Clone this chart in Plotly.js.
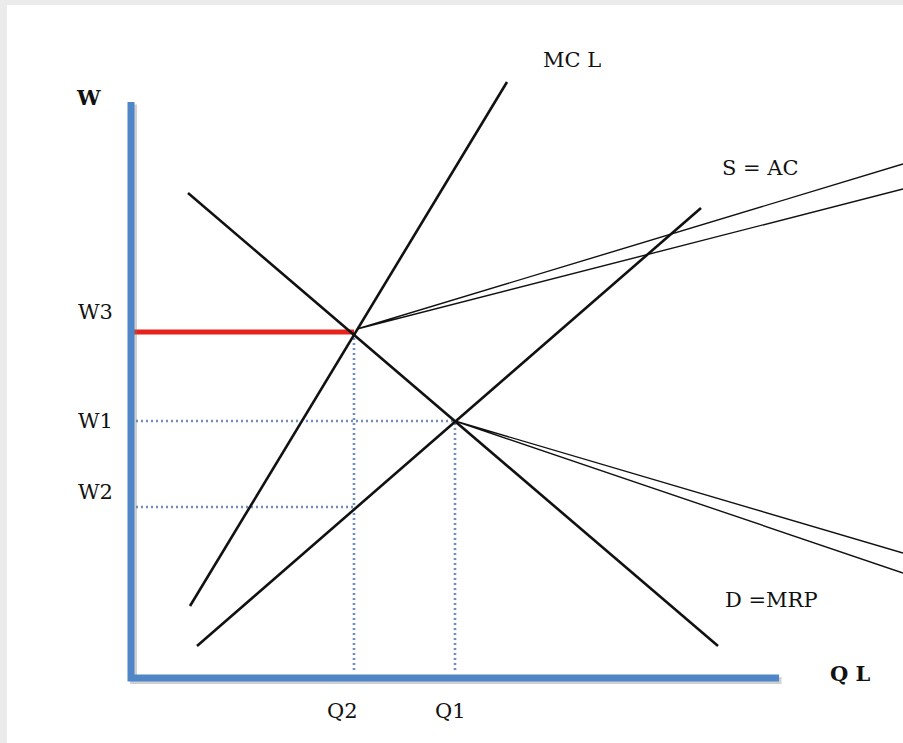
<!DOCTYPE html>
<html>
<head>
<meta charset="utf-8">
<script src="https://cdn.plot.ly/plotly-3.0.1.min.js"></script>
<style>
  html, body { margin: 0; padding: 0; background: #ebebeb; }
  #chart { width: 903px; height: 743px; }
</style>
</head>
<body>
<div id="chart"></div>
<script>
// ---- data (economic units: Q on x, W on y) ----
const curveNames = ['MC L', 'S = AC', 'D =MRP'];
const mcX = [5.9, 37.6];
const mcY = [7.2, 59.6];
const sX = [6.6, 57.0];
const sY = [3.2, 47.0];
const dX = [5.7, 58.7];
const dY = [48.5, 3.2];

const wLabels = ['W3', 'W1', 'W2'];
const wValues = [34.6, 25.7, 17.1];
const qLabels = ['Q2', 'Q1'];
const qValues = [22.3, 32.4];

const axisYTop = 57.6;
const axisXRight = 64.8;

// callout pointer lines (box lies off to the right)
const callUpX = [77.2, 22.6, 77.2];
const callUpY = [51.4, 34.9, 48.9];
const callLowX = [77.2, 32.4, 77.2];
const callLowY = [12.5, 25.7, 10.5];

// ---- traces ----
const FONT = 'DejaVu Serif, Liberation Serif, serif';
const black = '#111111';
const dotBlue = '#6f8dbd';
const dotStyle = {color: dotBlue, width: 2.6, dash: '2px,3px'};
const traces = [];

// dotted guide lines
traces.push({x: [0, qValues[1]], y: [wValues[1], wValues[1]], mode: 'lines', line: dotStyle});
traces.push({x: [0, qValues[0]], y: [wValues[2], wValues[2]], mode: 'lines', line: dotStyle});
traces.push({x: [qValues[0], qValues[0]], y: [0.8, wValues[0]], mode: 'lines', line: dotStyle});
traces.push({x: [qValues[1], qValues[1]], y: [0.8, wValues[1]], mode: 'lines', line: dotStyle});

// red W3 line
traces.push({x: [0, qValues[0]], y: [wValues[0], wValues[0]], mode: 'lines',
  line: {color: '#e5231b', width: 5}});

// curves
traces.push({name: curveNames[0], x: mcX, y: mcY, mode: 'lines', line: {color: black, width: 2.6}});
traces.push({name: curveNames[1], x: sX, y: sY, mode: 'lines', line: {color: black, width: 2.6}});
traces.push({name: curveNames[2], x: dX, y: dY, mode: 'lines', line: {color: black, width: 2.6}});

// callout lines
traces.push({x: callUpX, y: callUpY, mode: 'lines', line: {color: black, width: 1.4}});
traces.push({x: callLowX, y: callLowY, mode: 'lines', line: {color: black, width: 1.4}});

// axis lines (shadow then axis)
traces.push({x: [0.25, 0.25, axisXRight + 0.25], y: [axisYTop - 0.25, -0.25, -0.25], mode: 'lines',
  line: {color: 'rgba(120,120,120,0.35)', width: 7}});
traces.push({x: [0, 0, axisXRight], y: [axisYTop, 0, 0], mode: 'lines',
  line: {color: '#4f86c8', width: 7}});

// ---- annotations ----
const txt = {family: FONT, size: 21, color: '#111111'};
const annotations = [];
const wShift = [20, 0, 15];
wLabels.forEach((t, i) => annotations.push({
  x: 0, y: wValues[i], xref: 'x', yref: 'y', text: t, showarrow: false,
  xanchor: 'right', yanchor: 'middle', xshift: -16, yshift: wShift[i], font: txt}));
const qShift = [-12, -5];
qLabels.forEach((t, i) => annotations.push({
  x: qValues[i], y: 0, xref: 'x', yref: 'y', text: t, showarrow: false,
  xanchor: 'center', yanchor: 'middle', xshift: qShift[i], yshift: -33, font: txt}));

annotations.push({x: -4.3, y: 58.1, text: '<b>W</b>', showarrow: false, font: txt});
annotations.push({x: 71.9, y: 0.5, text: '<b>Q L</b>', showarrow: false, font: txt});
annotations.push({x: 44.1, y: 61.8, text: curveNames[0], showarrow: false, font: txt});
annotations.push({x: 62.9, y: 51.0, text: curveNames[1], showarrow: false, font: txt});
annotations.push({x: 64.0, y: 7.8, text: curveNames[2], showarrow: false, font: txt});

const layout = {
  width: 903, height: 743,
  margin: {l: 7, r: 0, t: 5, b: 0, pad: 0},
  paper_bgcolor: '#ebebeb',
  plot_bgcolor: '#ffffff',
  showlegend: false,
  xaxis: {range: [-12.4, 77.2], visible: false, fixedrange: true},
  yaxis: {range: [-6.5, 67.3], visible: false, fixedrange: true},
  annotations: annotations
};

Plotly.newPlot('chart', traces, layout, {staticPlot: true, displayModeBar: false});
</script>
</body>
</html>
